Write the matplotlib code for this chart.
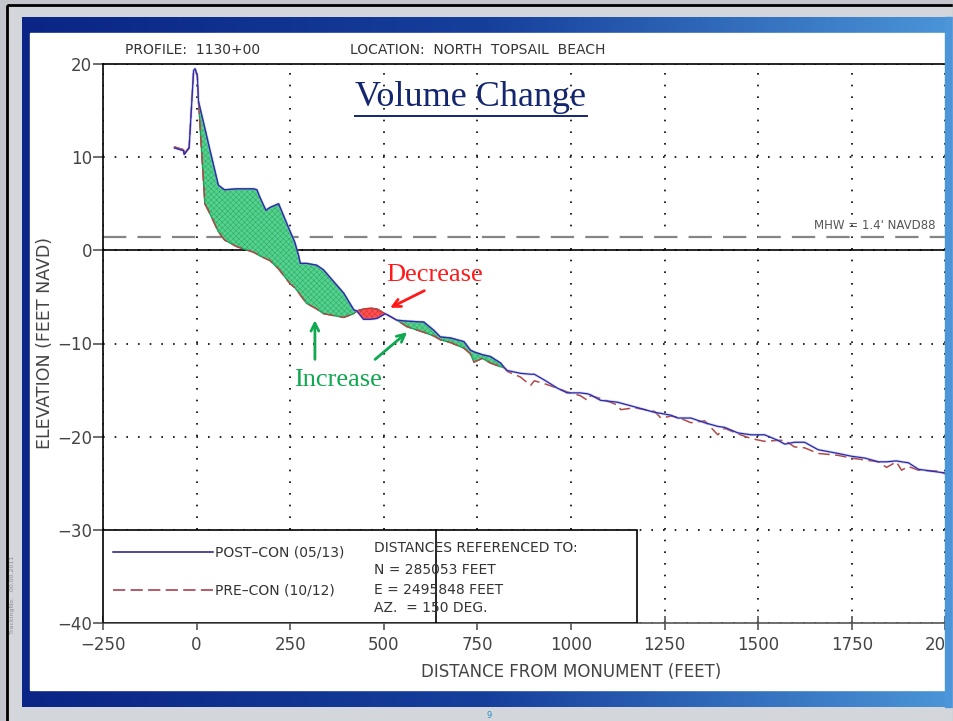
import numpy as np
import matplotlib
matplotlib.use("Agg")
import matplotlib.pyplot as plt
from matplotlib.patches import Rectangle
from matplotlib.lines import Line2D
from matplotlib.colors import LinearSegmentedColormap

W, H = 954, 721

# survey stations (ft from monument) shared by both profiles
dist = np.array([
    -59, -35, -33, -20, -8, -4, 2, 5, 22, 36,
    58, 71, 75, 107, 129, 152, 161, 169, 185, 196,
    219, 250, 262, 272, 277, 294, 321, 339, 393, 420,
    428, 446, 464, 482, 504, 535, 562, 607, 634, 651,
    678, 714, 731, 741, 763, 785, 812, 822, 830, 865,
    892, 902, 928, 964, 990, 1025, 1044, 1052, 1079, 1124,
    1133, 1170, 1224, 1240, 1267, 1285, 1320, 1357, 1392, 1410,
    1446, 1481, 1517, 1553, 1571, 1597, 1624, 1660, 1713, 1749,
    1785, 1821, 1843, 1869, 1883, 1901, 1928, 1981, 2000,
])

post_elev = np.array([
    11.0, 10.7, 10.3, 11.0, 19.3, 19.5, 18.7, 16.0, 13.1, 10.7,
    7.0, 6.6, 6.5, 6.6, 6.6, 6.6, 6.5, 5.7, 4.3, 4.6,
    5.0, 2.0, 0.9, -0.5, -1.4, -1.4, -1.6, -2.1, -4.6, -6.4,
    -6.5, -7.4, -7.4, -7.3, -6.8, -7.5, -7.6, -7.7, -8.6, -9.3,
    -9.4, -9.8, -10.7, -10.9, -11.2, -11.4, -12.1, -12.6, -12.9, -13.2,
    -13.3, -13.3, -13.9, -14.8, -15.3, -15.3, -15.4, -15.5, -16.1, -16.3,
    -16.4, -16.8, -17.4, -17.5, -17.7, -18.0, -18.0, -18.5, -18.9, -19.0,
    -19.6, -19.8, -19.8, -20.4, -20.8, -20.6, -20.6, -21.4, -21.8, -22.1,
    -22.3, -22.7, -22.7, -22.6, -22.7, -22.8, -23.5, -23.8, -23.9,
])

pre_elev = np.array([
    11.1, 10.8, 10.4, 11.0, 19.3, 19.5, 18.7, 16.0, 5.0, 3.9,
    2.0, 1.3, 1.1, 0.4, 0.1, -0.2, -0.4, -0.6, -0.9, -1.1,
    -2.0, -3.6, -4.0, -4.5, -4.8, -5.7, -6.3, -6.8, -7.2, -6.8,
    -6.5, -6.3, -6.2, -6.3, -6.8, -7.5, -8.2, -8.8, -9.2, -9.6,
    -9.9, -10.5, -11.1, -12.0, -11.6, -12.1, -12.5, -12.6, -13.0, -13.6,
    -14.5, -14.0, -14.3, -14.8, -15.2, -15.6, -16.1, -15.6, -15.9, -16.6,
    -17.1, -16.9, -17.3, -18.0, -17.8, -17.9, -18.5, -18.3, -19.8, -19.1,
    -19.7, -20.2, -20.5, -20.4, -20.4, -21.1, -21.2, -21.8, -22.0, -22.3,
    -22.5, -22.7, -23.3, -22.7, -23.6, -23.2, -23.6, -23.7, -24.0,
])

fill_limit = 822          # volume comparison stops at closure of the nourishment
mhw = 1.4
x_ticks = np.arange(-250, 2001, 250)
y_ticks = np.arange(-40, 21, 10)

ref_lines = ["DISTANCES REFERENCED TO:", "N = 285053 FEET",
             "E = 2495848 FEET", "AZ.  = 150 DEG."]
ref_rows = [0.134, 0.0948, 0.059, 0.0268]

plt.rcParams["hatch.linewidth"] = 0.35
cad = ["Liberation Sans Narrow", "DejaVu Sans"]
serif = ["Liberation Serif", "DejaVu Serif"]

fig = plt.figure(figsize=(W / 100, H / 100), dpi=100)

# slide frame
bg = fig.add_axes([0, 0, 1, 1])
bg.set_zorder(-1)
bg.add_patch(Rectangle((0, 0), W, H, color="#c3c7cd", zorder=0))
bg.add_patch(Rectangle((9, 7), W - 10, H - 8, color="#d3d6db", zorder=0.5))
blues = LinearSegmentedColormap.from_list("frame", ["#0a2585", "#163f9c", "#4b95d8"])
bg.imshow(np.linspace(0, 1, 256)[None, :], cmap=blues, aspect="auto",
          extent=(22, 953, 707, 17), zorder=1)
bg.add_patch(Rectangle((30, 33), 915, 657, color="white", zorder=2))
bg.add_patch(Rectangle((7, 5), W, H, fill=False, ec="black", lw=2, zorder=3))
bg.text(489, 716, "9", fontsize=6, color="#2a8fbf", ha="center", va="center", zorder=3)
bg.text(13, 595, "TrackingNo.   00.00.2011", fontsize=4.5, color="#8a8d92",
        rotation=90, ha="center", va="center", zorder=3)
bg.set_xlim(0, W)
bg.set_ylim(H, 0)
bg.axis("off")

# profile axes
ax = fig.add_axes([103 / W, 1 - 623 / H, 936 / W, 559 / H])
ax.patch.set_visible(False)
ax.set_xlim(-250, 2250)
ax.set_ylim(-40, 20)
ax.set_xticks(x_ticks)
ax.set_yticks(y_ticks)
ax.spines["right"].set_visible(False)
for side in ["top", "left"]:
    ax.spines[side].set_color("black")
    ax.spines[side].set_linewidth(1.2)
ax.spines["bottom"].set_color("#555555")
ax.spines["bottom"].set_linewidth(1.2)
ax.tick_params(axis="x", direction="inout", length=10, width=1.2, color="#555555",
               labelcolor="#444444", labelsize=12, pad=4)
ax.tick_params(axis="y", direction="out", length=7, width=1.2, color="#555555",
               labelcolor="#444444", labelsize=12, pad=1)
for lab in ax.get_xticklabels() + ax.get_yticklabels():
    lab.set_family(cad)
ax.grid(True, color="black", linestyle=(0, (1, 6)), linewidth=1.2)
ax.set_axisbelow(True)

ax.axhline(0, color="black", lw=1.2, zorder=2)
ax.axhline(mhw, color="#858585", lw=1.6, linestyle=(0, (10.5, 5)), zorder=2)
ax.annotate("MHW = 1.4' NAVD88", xy=(0.889, mhw), xycoords=("axes fraction", "data"),
            xytext=(0, 4), textcoords="offset points", ha="right", va="bottom",
            fontsize=8.5, color="#555555", family=cad)

# accretion / erosion between surveys: stippled fill, then a darker outline
near = dist <= fill_limit
gain = near & (post_elev > pre_elev)
loss = near & (post_elev < pre_elev)
for mask, face, stip, edge in [(gain, "#55d28e", "#2aa862", "#1e9e57"),
                               (loss, "#ff5050", "#d83030", "#d42a2a")]:
    ax.fill_between(dist, pre_elev, post_elev, where=mask, interpolate=True,
                    facecolor=face, edgecolor=stip, hatch="xxxxxx", lw=0, zorder=3)
    ax.fill_between(dist, pre_elev, post_elev, where=mask, interpolate=True,
                    facecolor="none", edgecolor=edge, lw=1.0, zorder=3)

ax.plot(dist, pre_elev, color="#b04a4a", lw=1.1, linestyle=(0, (7.5, 3.5)), zorder=4)
ax.plot(dist, post_elev, color="#9a9ae8", lw=2.0, alpha=0.4, zorder=4)
ax.plot(dist, post_elev, color="#2a2aa8", lw=0.9, zorder=5)

# headers
ax.text(0.024, 1.012, "PROFILE:  1130+00", transform=ax.transAxes, fontsize=10,
        color="#333333", family=cad, va="bottom")
ax.text(0.264, 1.012, "LOCATION:  NORTH  TOPSAIL  BEACH", transform=ax.transAxes,
        fontsize=10, color="#333333", family=cad, va="bottom")
ax.set_xlabel("DISTANCE FROM MONUMENT (FEET)", fontsize=12, color="#444444",
              family=cad, labelpad=7)
ax.set_ylabel("ELEVATION (FEET NAVD)", fontsize=12.5, color="#444444",
              family=cad, labelpad=2)

# legend / reference box
box_w, box_div, box_h = 0.5705, 0.3558, 10 / 60
ax.add_patch(Rectangle((0, 0), box_w, box_h, transform=ax.transAxes,
                       facecolor="white", edgecolor="black", lw=1.2, zorder=6))
ax.add_line(Line2D([box_div, box_div], [0, box_h], transform=ax.transAxes,
                   color="black", lw=1.2, zorder=7))
ax.add_line(Line2D([0.011, 0.1175], [0.127, 0.127], transform=ax.transAxes,
                   color="#1a1a80", lw=1.1, zorder=7))
ax.add_line(Line2D([0.011, 0.1175], [0.059, 0.059], transform=ax.transAxes,
                   color="#a03040", lw=1.1, linestyle=(0, (8, 3.5)), zorder=7))
ax.text(0.1195, 0.127, "POST\u2013CON (05/13)", transform=ax.transAxes, fontsize=10,
        color="#333333", family=cad, va="center", zorder=7)
ax.text(0.1195, 0.059, "PRE\u2013CON (10/12)", transform=ax.transAxes, fontsize=10,
        color="#333333", family=cad, va="center", zorder=7)
for row, line in zip(ref_rows, ref_lines):
    ax.text(0.2895, row, line, transform=ax.transAxes,
            fontsize=10, color="#333333", family=cad, va="center", zorder=7)

# callouts
ax.text(635, -2.7, "Decrease", color="#ff1a1a", fontsize=19, family=serif,
        ha="center", va="center", zorder=8)
ax.text(378, -13.9, "Increase", color="#10a850", fontsize=19, family=serif,
        ha="center", va="center", zorder=8)
ax.annotate("", xy=(510, -6.3), xytext=(615, -4.2),
            arrowprops=dict(arrowstyle="->", color="#ff1a1a", lw=2, mutation_scale=14),
            zorder=8)
ax.annotate("", xy=(316, -7.2), xytext=(316, -12.0),
            arrowprops=dict(arrowstyle="->", color="#10a850", lw=2, mutation_scale=14),
            zorder=8)
ax.annotate("", xy=(568, -8.6), xytext=(471, -11.9),
            arrowprops=dict(arrowstyle="->", color="#10a850", lw=2, mutation_scale=14),
            zorder=8)

title = fig.text(471 / W, 1 - 98 / H, "Volume Change", fontsize=26, color="#13266e",
                 family=serif, ha="center", va="center")
fig.canvas.draw()
tb = title.get_window_extent()
fig.add_artist(Line2D([tb.x0 / W, tb.x1 / W], [(tb.y0 - 1) / H, (tb.y0 - 1) / H],
                      color="#13266e", lw=1.4))

# right edge of the slide hides the clipped part of the chart
ov = fig.add_axes([0, 0, 1, 1])
ov.set_zorder(3)
ov.patch.set_visible(False)
ov.add_patch(Rectangle((945, 17), 8, 690, color="#4b95d8"))
ov.add_patch(Rectangle((953, 0), 2, H, color="#c3c7cd"))
ov.set_xlim(0, W)
ov.set_ylim(H, 0)
ov.axis("off")

fig.savefig("out.png", dpi=100)
